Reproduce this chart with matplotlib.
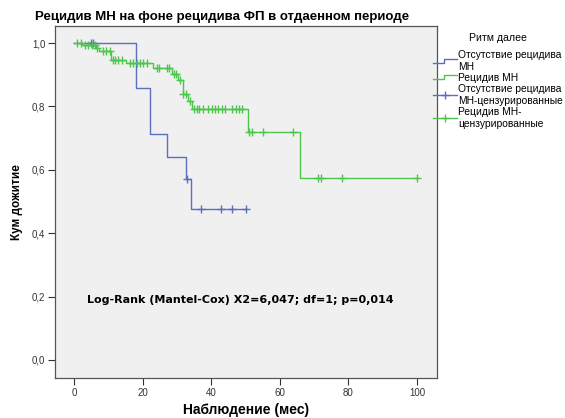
import numpy as np
import matplotlib
matplotlib.use("Agg")
import matplotlib.pyplot as plt
from matplotlib.lines import Line2D
from matplotlib.legend_handler import HandlerBase

plt.rcParams['font.family'] = ['Liberation Sans', 'DejaVu Sans']

# Kaplan-Meier step estimates (time in months, cumulative survival after the step)
no_relapse_times = [0, 18.1, 22.2, 27.0, 32.7, 34.0]
no_relapse_surv = [1.0, 0.857, 0.714, 0.641, 0.571, 0.475]
no_relapse_end = 50.1
no_relapse_censored = [5.1, 5.6, 33.0, 37.0, 43.0, 46.0, 50.1]

relapse_times = [0, 2.4, 6.5, 7.4, 10.8, 15.2, 23.1, 28.5, 30.4, 31.7, 33.3, 34.3, 50.8, 65.9]
relapse_surv = [1.0, 0.993, 0.985, 0.974, 0.946, 0.936, 0.920, 0.902, 0.883, 0.838,
                0.817, 0.792, 0.718, 0.575]
relapse_end = 100.0
relapse_censored = [0.8, 2.0, 3.2, 4.2, 5.2, 6.1, 6.8, 8.5, 9.5, 10.5, 11.3, 12.0, 12.9,
                    13.9, 16.3, 17.3, 18.3, 19.2, 20.2, 21.2, 24.1, 24.8, 27.2, 27.8,
                    29.2, 29.8, 30.9, 31.9, 32.6, 33.8, 35.1, 35.8, 36.5, 37.7, 39.2,
                    40.2, 41.1, 42.1, 43.1, 44.1, 46.2, 47.2, 48.2, 48.9, 51.1, 51.8,
                    55.0, 63.9, 71.0, 71.9, 78.0, 99.9]

legend_title = "Ритм далее"
legend_labels = ["Отсутствие рецидива\nМН", "Рецидив МН",
                 "Отсутствие рецидива\nМН-цензурированные", "Рецидив МН-\nцензурированные"]
x_ticks = [0, 20, 40, 60, 80, 100]
y_ticks = [0.0, 0.2, 0.4, 0.6, 0.8, 1.0]

BLUE = "#5b6ec0"
GREEN = "#4cc64c"


def survival_at(t, times, surv):
    idx = np.searchsorted(times, t, side="right") - 1
    return np.asarray(surv)[idx]


fig = plt.figure(figsize=(5.65, 4.18), dpi=100)
ax = fig.add_axes([55 / 565, 40 / 418, 382 / 565, 352 / 418])
ax.set_facecolor("#f0f0f0")

for times, surv, end, cens, col in [
    (no_relapse_times, no_relapse_surv, no_relapse_end, no_relapse_censored, BLUE),
    (relapse_times, relapse_surv, relapse_end, relapse_censored, GREEN),
]:
    xs = list(times) + [end]
    ys = list(surv) + [surv[-1]]
    ax.step(xs, ys, where="post", color=col, lw=1.0)
    cs = survival_at(np.array(cens), np.array(times), surv)
    ax.plot(cens, cs, linestyle="none", marker="+", ms=6, mew=1.0, color=col)

ax.set_xlim(-5.5, 105.8)
ax.set_ylim(-0.057, 1.054)
ax.set_xticks(x_ticks)
ax.set_xticklabels([str(v) for v in x_ticks])
ax.set_yticks(y_ticks)
ax.set_yticklabels([f"{v:.1f}".replace(".", ",") for v in y_ticks])
ax.tick_params(labelsize=7, length=5, width=0.8, color="#333333", labelcolor="#333333", pad=2)
for s in ax.spines.values():
    s.set_color("#555555")
    s.set_linewidth(0.9)

ax.set_xlabel("Наблюдение (мес)", fontsize=10, fontweight="bold", labelpad=4)
ax.set_ylabel("Кум дожитие", fontsize=8.5, fontweight="bold", labelpad=6)
fig.text(222 / 565, 1 - 17 / 418, "Рецидив МН на фоне рецидива ФП в отдаенном периоде",
         fontsize=9.5, fontweight="bold", ha="center", va="center")
ax.text(3.8, 0.19, "Log-Rank (Mantel-Cox) X2=6,047; df=1; p=0,014",
        fontsize=8.0, fontweight="bold", ha="left", va="center",
        family=["DejaVu Sans"])


class StepHandler(HandlerBase):
    def create_artists(self, legend, orig_handle, xdescent, ydescent, width, height,
                       fontsize, trans):
        x = np.array([0, 0.45, 0.45, 1.0]) * width - xdescent
        y = np.array([0.25, 0.25, 0.85, 0.85]) * height - ydescent
        line = Line2D(x, y, color=orig_handle.get_color(), lw=1.0)
        line.set_transform(trans)
        return [line]


h1 = Line2D([], [], color=BLUE)
h2 = Line2D([], [], color=GREEN)
h3 = Line2D([], [], color=BLUE, marker="+", ms=6, mew=1.0, lw=1.0)
h4 = Line2D([], [], color=GREEN, marker="+", ms=6, mew=1.0, lw=1.0)
leg = fig.legend([h1, h2, h3, h4], legend_labels, title=legend_title,
                 loc="upper left", bbox_to_anchor=(426 / 565, 1 - 26 / 418),
                 frameon=False, fontsize=7.4, title_fontsize=7.6, handlelength=2.3,
                 handletextpad=0.15, labelspacing=0.12, borderpad=0.2, numpoints=1,
                 handler_map={h1: StepHandler(), h2: StepHandler()})
# extra room between the legend title and its entries
leg._legend_box.sep = 5.0

fig.savefig("out.png", dpi=100)
